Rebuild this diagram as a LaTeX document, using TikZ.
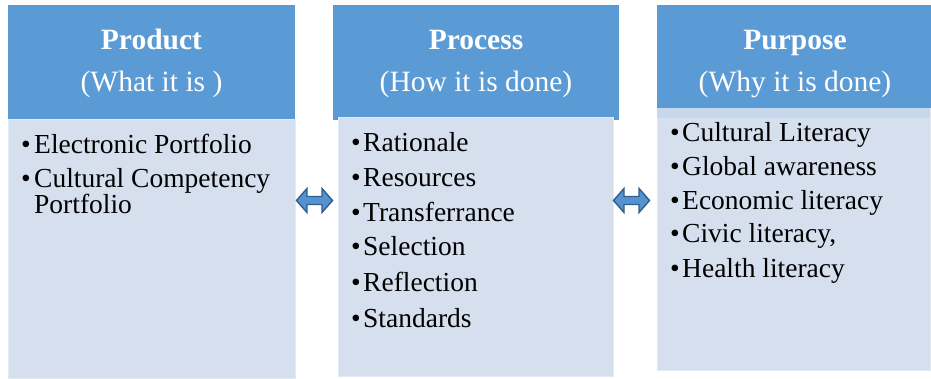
\documentclass[tikz,border=0pt]{standalone}
\usepackage{fontspec}
\setmainfont{Liberation Serif}
\definecolor{hblue}{HTML}{5B9BD5}
\definecolor{bblue}{HTML}{D5DFEE}
\definecolor{bedge}{HTML}{E2EAF5}
\definecolor{band}{HTML}{C7D7EC}
\definecolor{afill}{HTML}{5593D0}
\definecolor{aedge}{HTML}{2E5E8E}
\begin{document}
\begin{tikzpicture}[x=1pt,y=-1pt,
  hdr/.style={fill=hblue, draw=none, inner sep=0pt, outer sep=0pt, anchor=north west},
  bodybox/.style={fill=bblue, draw=bedge, line width=0.8pt, inner sep=0pt, outer sep=0pt, anchor=north west},
  bandbox/.style={fill=band, draw=none, inner sep=0pt, outer sep=0pt, anchor=north west},
  htitle/.style={anchor=base, inner sep=0pt, text=white, font=\fontsize{29.5}{34}\selectfont\bfseries},
  hsub/.style={anchor=base, inner sep=0pt, text=white, font=\fontsize{29.5}{34}\selectfont},
  item/.style={anchor=base west, inner sep=0pt, font=\fontsize{27.5}{32}\selectfont},
  bul/.style={anchor=base west, inner sep=0pt, font=\fontsize{27.5}{32}\selectfont},
  dblarrow/.style={fill=afill, draw=aedge, line width=1.4pt, line join=miter}
]
\useasboundingbox (0,0) rectangle (931,379);
% boxes
\node[hdr, minimum width=287pt, minimum height=114pt] (prodH) at (8,5) {};
\node[bodybox, minimum width=287pt, minimum height=259pt] (prodB) at (8,119) {};
\node[hdr, minimum width=286pt, minimum height=115pt] (procH) at (333,5) {};
\node[bodybox, minimum width=275pt, minimum height=259pt] (procB) at (338,117) {};
\node[hdr, minimum width=274pt, minimum height=103pt] (purpH) at (657,5) {};
\node[bodybox, minimum width=273pt, minimum height=262pt] (purpB) at (657,108) {};
\node[bandbox, minimum width=273pt, minimum height=10pt] (purpBand) at (657,108) {};
% header texts
\node[htitle] (t1) at (151.5,50) {Product};
\node[hsub] (s1) at (151.5,92) {(What it is )};
\node[htitle] (t2) at (476,50) {Process};
\node[hsub] (s2) at (476,92) {(How it is done)};
\node[htitle] (t3) at (795,50) {Purpose};
\node[hsub] (s3) at (795,92) {(Why it is done)};
% product items
\node[bul] (pb1) at (21,154) {•};
\node[item] (p1) at (34,154) {Electronic Portfolio};
\node[bul] (pb2) at (21,188) {•};
\node[item] (p2) at (34,188) {Cultural Competency};
\node[item] (p3) at (34,214) {Portfolio};
% process items
\node[bul] (rb1) at (351,152) {•};
\node[item] (r1) at (363,152) {Rationale};
\node[bul] (rb2) at (351,187) {•};
\node[item] (r2) at (363,187) {Resources};
\node[bul] (rb3) at (351,222) {•};
\node[item] (r3) at (363,222) {Transferrance};
\node[bul] (rb4) at (351,256) {•};
\node[item] (r4) at (363,256) {Selection};
\node[bul] (rb5) at (351,291) {•};
\node[item] (r5) at (363,291) {Reflection};
\node[bul] (rb6) at (351,327) {•};
\node[item] (r6) at (363,327) {Standards};
% purpose items
\node[bul] (ub1) at (670,142) {•};
\node[item] (u1) at (682,142) {Cultural Literacy};
\node[bul] (ub2) at (670,176) {•};
\node[item] (u2) at (682,176) {Global awareness};
\node[bul] (ub3) at (670,210) {•};
\node[item] (u3) at (682,210) {Economic literacy};
\node[bul] (ub4) at (670,243) {•};
\node[item] (u4) at (682,243) {Civic literacy,};
\node[bul] (ub5) at (670,277) {•};
\node[item] (u5) at (682,277) {Health literacy};
% double arrows
\coordinate (a1) at (314.5,200.5);
\coordinate (a2) at (631.5,200.5);
\foreach \c in {a1,a2}{
  \draw[dblarrow, shift={(\c)}] (-18,0) -- (-7.5,12) -- (-7.5,4) -- (7.5,4) -- (7.5,12) -- (18,0) -- (7.5,-12) -- (7.5,-4) -- (-7.5,-4) -- (-7.5,-12) -- cycle;
}
\end{tikzpicture}
\end{document}
